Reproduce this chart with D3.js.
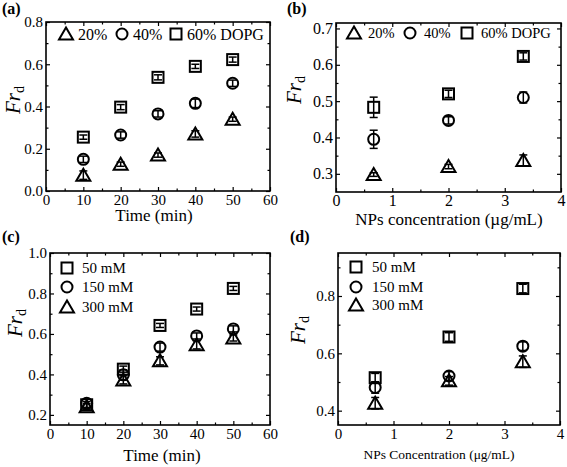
<!DOCTYPE html>
<html><head><meta charset="utf-8">
<script src="https://cdn.jsdelivr.net/npm/d3@7"></script>
<style>body{margin:0;background:#fff}svg{display:block}text{font-family:"Liberation Serif","Times New Roman",serif;fill:#000}</style>
</head><body>
<svg id="c" width="567" height="467"></svg>
<script>
// ---- data ----
const timeMin = [10, 20, 30, 40, 50];
const npsConc = [0.67, 2, 3.33];

const a20 = [0.075, 0.127, 0.17, 0.27, 0.34];
const a20err = [0.02, 0.01, 0.01, 0.015, 0.01];
const a40 = [0.15, 0.265, 0.365, 0.415, 0.51];
const a40err = [0.015, 0.015, 0.015, 0.02, 0.015];
const a60 = [0.255, 0.397, 0.538, 0.59, 0.622];
const a60err = [0.01, 0.012, 0.012, 0.01, 0.012];

const b20 = [0.298, 0.32, 0.337];
const b20err = [0.005, 0.006, 0.015];
const b40 = [0.395, 0.447, 0.51];
const b40err = [0.025, 0.01, 0.015];
const b60 = [0.483, 0.52, 0.623];
const b60err = [0.028, 0.01, 0.01];

const c50 = [0.25, 0.426, 0.642, 0.723, 0.825];
const c50err = [0.015, 0.015, 0.01, 0.01, 0.01];
const c150 = [0.257, 0.398, 0.535, 0.59, 0.625];
const c150err = [0.02, 0.025, 0.02, 0.015, 0.015];
const c300 = [0.24, 0.373, 0.467, 0.546, 0.58];
const c300err = [0.015, 0.02, 0.02, 0.02, 0.015];

const d50 = [0.515, 0.657, 0.826];
const d50err = [0.015, 0.015, 0.015];
const d150 = [0.481, 0.521, 0.625];
const d150err = [0.02, 0.015, 0.015];
const d300 = [0.426, 0.504, 0.571];
const d300err = [0.02, 0.015, 0.02];

const timeTicks = [0, 10, 20, 30, 40, 50, 60];
const concTicks = [0, 1, 2, 3, 4];

const SERIF = "Liberation Serif";
const svg = d3.select("#c");

function marker(g, shape, x, y) {
  if (shape === "square") {
    g.append("rect").attr("x", x - 5.5).attr("y", y - 5.5).attr("width", 11).attr("height", 11)
      .attr("fill", "none").attr("stroke", "#000").attr("stroke-width", 2);
  } else if (shape === "circle") {
    g.append("circle").attr("cx", x).attr("cy", y).attr("r", 5.5)
      .attr("fill", "none").attr("stroke", "#000").attr("stroke-width", 2);
  } else {
    g.append("path").attr("d", `M${x - 7},${y + 5.5}L${x + 7},${y + 5.5}L${x},${y - 6.5}Z`)
      .attr("fill", "none").attr("stroke", "#000").attr("stroke-width", 2).attr("stroke-linejoin", "miter");
  }
}

function panel(cfg) {
  const g = svg.append("g");
  const x = d3.scaleLinear().domain(cfg.xd).range([cfg.l, cfg.r]);
  const y = d3.scaleLinear().domain(cfg.yd).range([cfg.b, cfg.t]);
  const tf = cfg.tickFont;
  const style = sel => {
    sel.attr("font-family", SERIF).attr("font-size", tf);
    sel.select(".domain").remove();
    sel.selectAll("line").attr("stroke", "#000").attr("stroke-width", 1.2);
    sel.selectAll("text").attr("font-family", SERIF).attr("font-size", tf);
  };
  g.append("g").attr("transform", `translate(0,${cfg.b})`)
    .call(d3.axisBottom(x).tickValues(cfg.xt).tickSize(-4).tickPadding(cfg.xpad).tickFormat(d3.format("d")))
    .call(style);
  g.append("g").attr("transform", `translate(0,${cfg.b})`)
    .call(d3.axisBottom(x).tickValues(cfg.xm).tickSize(-2.5).tickFormat("")).call(style);
  g.append("g").attr("transform", `translate(0,${cfg.t})`)
    .call(d3.axisTop(x).tickValues(cfg.xt).tickSize(-4).tickFormat("")).call(style);
  g.append("g").attr("transform", `translate(0,${cfg.t})`)
    .call(d3.axisTop(x).tickValues(cfg.xm).tickSize(-2.5).tickFormat("")).call(style);
  g.append("g").attr("transform", `translate(${cfg.l},0)`)
    .call(d3.axisLeft(y).tickValues(cfg.yt).tickSize(-4).tickPadding(cfg.ypad).tickFormat(d3.format(".1f"))).call(style);
  g.append("g").attr("transform", `translate(${cfg.l},0)`)
    .call(d3.axisLeft(y).tickValues(cfg.ym).tickSize(-2.5).tickFormat("")).call(style);
  g.append("g").attr("transform", `translate(${cfg.r},0)`)
    .call(d3.axisRight(y).tickValues(cfg.yt).tickSize(-4).tickFormat("")).call(style);
  g.append("g").attr("transform", `translate(${cfg.r},0)`)
    .call(d3.axisRight(y).tickValues(cfg.ym).tickSize(-2.5).tickFormat("")).call(style);
  g.append("rect").attr("x", cfg.l).attr("y", cfg.t).attr("width", cfg.r - cfg.l).attr("height", cfg.b - cfg.t)
    .attr("fill", "none").attr("stroke", "#000").attr("stroke-width", 1.6);

  cfg.series.forEach(s => {
    s.vals.forEach((v, i) => {
      const cx = x(cfg.xs[i]);
      const e = s.err[i];
      g.append("line").attr("x1", cx).attr("x2", cx).attr("y1", y(v - e)).attr("y2", y(v + e))
        .attr("stroke", "#000").attr("stroke-width", 1.5);
      [v - e, v + e].forEach(w => g.append("line").attr("x1", cx - 4).attr("x2", cx + 4)
        .attr("y1", y(w)).attr("y2", y(w)).attr("stroke", "#000").attr("stroke-width", 1.5));
      marker(g, s.shape, cx, y(v));
    });
  });

  cfg.legend.forEach(it => {
    marker(g, it.shape, it.mx, it.my);
    g.append("text").attr("x", it.tx).attr("y", it.my).attr("dy", "0.35em")
      .attr("font-family", SERIF).attr("font-size", cfg.legFont).text(it.label);
  });

  g.append("text").attr("x", cfg.xtitleCX).attr("y", cfg.xtitleY).attr("text-anchor", "middle")
    .attr("font-family", SERIF).attr("font-size", cfg.xtitleFont).text(cfg.xtitle);
  const yt = g.append("text").attr("transform", `translate(${cfg.ytitleX},${cfg.ytitleY}) rotate(-90)`)
    .attr("text-anchor", "middle").attr("font-family", SERIF).attr("font-size", 21);
  yt.append("tspan").attr("font-style", "italic").text("Fr");
  yt.append("tspan").attr("dy", "4").attr("font-size", 14).text("d");
  g.append("text").attr("x", cfg.lx).attr("y", cfg.ly).attr("font-family", SERIF)
    .attr("font-size", 16).attr("font-weight", "bold").text(cfg.letter);
}

panel({
  letter: "(a)", lx: 2, ly: 14,
  l: 46, r: 270, t: 22, b: 191,
  xd: [0, 60], yd: [0, 0.8], xs: timeMin,
  xt: timeTicks, xm: [5, 15, 25, 35, 45, 55],
  yt: [0, 0.2, 0.4, 0.6, 0.8], ym: [0.1, 0.3, 0.5, 0.7],
  tickFont: 15, xpad: 3, ypad: 3,
  legFont: 16, xtitleFont: 17, xtitle: "Time (min)", xtitleCX: 154, xtitleY: 221,
  ytitleX: 20, ytitleY: 100,
  series: [
    {shape: "triangle", vals: a20, err: a20err},
    {shape: "circle", vals: a40, err: a40err},
    {shape: "square", vals: a60, err: a60err}
  ],
  legend: [
    {shape: "triangle", mx: 66, my: 34, tx: 78, label: "20%"},
    {shape: "circle", mx: 122, my: 34, tx: 133, label: "40%"},
    {shape: "square", mx: 176, my: 34, tx: 187, label: "60% DOPG"}
  ]
});

panel({
  letter: "(b)", lx: 287, ly: 14,
  l: 336, r: 561, t: 23, b: 192,
  xd: [0, 4], yd: [0.25, 0.715], xs: npsConc,
  xt: concTicks, xm: [0.5, 1.5, 2.5, 3.5],
  yt: [0.3, 0.4, 0.5, 0.6, 0.7], ym: [0.35, 0.45, 0.55, 0.65],
  tickFont: 16, xpad: 3, ypad: 3,
  legFont: 14.5, xtitleFont: 17, xtitle: "NPs concentration (µg/mL)", xtitleCX: 449, xtitleY: 225,
  ytitleX: 301, ytitleY: 90,
  series: [
    {shape: "triangle", vals: b20, err: b20err},
    {shape: "circle", vals: b40, err: b40err},
    {shape: "square", vals: b60, err: b60err}
  ],
  legend: [
    {shape: "triangle", mx: 354, my: 33, tx: 368, label: "20%"},
    {shape: "circle", mx: 410, my: 33, tx: 424, label: "40%"},
    {shape: "square", mx: 467, my: 33, tx: 481, label: "60% DOPG"}
  ]
});

panel({
  letter: "(c)", lx: 2, ly: 242,
  l: 50, r: 270, t: 253, b: 425,
  xd: [0, 60], yd: [0.15, 1.0], xs: timeMin,
  xt: timeTicks, xm: [5, 15, 25, 35, 45, 55],
  yt: [0.2, 0.4, 0.6, 0.8, 1.0], ym: [0.3, 0.5, 0.7, 0.9],
  tickFont: 15, xpad: 3, ypad: 3,
  legFont: 15, xtitleFont: 17, xtitle: "Time (min)", xtitleCX: 162, xtitleY: 461,
  ytitleX: 22, ytitleY: 323,
  series: [
    {shape: "square", vals: c50, err: c50err},
    {shape: "circle", vals: c150, err: c150err},
    {shape: "triangle", vals: c300, err: c300err}
  ],
  legend: [
    {shape: "square", mx: 67, my: 268, tx: 82, label: "50 mM"},
    {shape: "circle", mx: 67, my: 287, tx: 82, label: "150 mM"},
    {shape: "triangle", mx: 67, my: 307, tx: 82, label: "300 mM"}
  ]
});

panel({
  letter: "(d)", lx: 290, ly: 242,
  l: 338, r: 560, t: 253, b: 425,
  xd: [0, 4], yd: [0.35, 0.95], xs: npsConc,
  xt: concTicks, xm: [0.5, 1.5, 2.5, 3.5],
  yt: [0.4, 0.6, 0.8], ym: [0.5, 0.7, 0.9],
  tickFont: 15, xpad: 3, ypad: 3,
  legFont: 15, xtitleFont: 13.5, xtitle: "NPs Concentration (μg/mL)", xtitleCX: 439, xtitleY: 459,
  ytitleX: 305, ytitleY: 330,
  series: [
    {shape: "square", vals: d50, err: d50err},
    {shape: "circle", vals: d150, err: d150err},
    {shape: "triangle", vals: d300, err: d300err}
  ],
  legend: [
    {shape: "square", mx: 356, my: 267, tx: 372, label: "50 mM"},
    {shape: "circle", mx: 356, my: 287, tx: 372, label: "150 mM"},
    {shape: "triangle", mx: 356, my: 305, tx: 372, label: "300 mM"}
  ]
});
</script>
</body></html>
